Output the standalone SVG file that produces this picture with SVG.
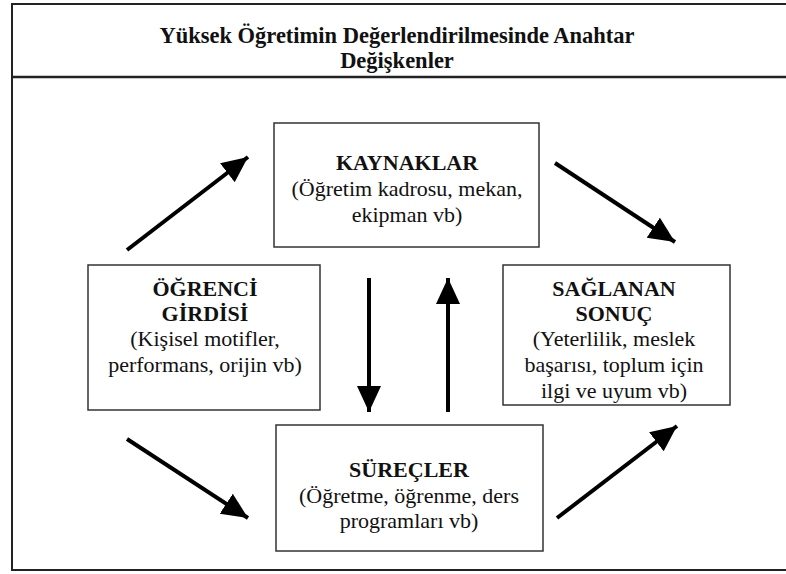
<svg xmlns="http://www.w3.org/2000/svg" width="786" height="574" viewBox="0 0 786 574" font-family="Liberation Serif, Times New Roman, serif">
<style>
.frame{fill:none;stroke:#222;stroke-width:2}
.box{fill:#fff;stroke:#333;stroke-width:1.5}
.b{font-weight:bold;font-size:22px;fill:#111;text-anchor:middle}
.r{font-size:22px;fill:#111;text-anchor:middle}
.title{font-weight:bold;font-size:22.5px;fill:#111;text-anchor:middle}
.arr{stroke:#000;stroke-width:4;fill:none;marker-end:url(#ah)}
</style>
<defs>
<marker id="ah" markerUnits="userSpaceOnUse" markerWidth="30" markerHeight="26" refX="26" refY="12" orient="auto">
<path d="M0,0 L26,12 L0,24 Z" fill="#000"/>
</marker>
</defs>
<rect width="786" height="574" fill="#fff"/>
<g id="frame">
<rect class="frame" x="12" y="4" width="780" height="566"/>
<line x1="12" y1="77" x2="786" y2="77" stroke="#222" stroke-width="2.5"/>
<text class="title" x="397" y="43">Yüksek Öğretimin Değerlendirilmesinde Anahtar</text>
<text class="title" x="397" y="68">Değişkenler</text>
</g>
<g id="connectors">
<line class="arr" x1="127" y1="250" x2="248" y2="157"/>
<line class="arr" x1="555" y1="163" x2="675" y2="242"/>
<line class="arr" x1="127" y1="439" x2="248" y2="518"/>
<line class="arr" x1="557" y1="518" x2="677" y2="426"/>
<line class="arr" x1="369" y1="278" x2="369" y2="412"/>
<line class="arr" x1="448" y1="412" x2="448" y2="278"/>
</g>
<g id="kaynaklar">
<rect class="box" x="274" y="123" width="265" height="124"/>
<text class="b" x="407" y="170">KAYNAKLAR</text>
<text class="r" x="407" y="196">(Öğretim kadrosu, mekan,</text>
<text class="r" x="407" y="222">ekipman vb)</text>
</g>
<g id="ogrenci">
<rect class="box" x="88" y="265" width="232" height="145"/>
<text class="b" x="205" y="296">ÖĞRENCİ</text>
<text class="b" x="205" y="321">GİRDİSİ</text>
<text class="r" x="205" y="346">(Kişisel motifler,</text>
<text class="r" x="205" y="372">performans, orijin vb)</text>
</g>
<g id="saglanan">
<rect class="box" x="503" y="265" width="227" height="140"/>
<text class="b" x="614" y="296">SAĞLANAN</text>
<text class="b" x="614" y="321">SONUÇ</text>
<text class="r" x="614" y="346">(Yeterlilik, meslek</text>
<text class="r" x="614" y="372">başarısı, toplum için</text>
<text class="r" x="614" y="398">ilgi ve uyum vb)</text>
</g>
<g id="surecler">
<rect class="box" x="276" y="425" width="267" height="126"/>
<text class="b" x="409" y="477">SÜREÇLER</text>
<text class="r" x="409" y="503">(Öğretme, öğrenme, ders</text>
<text class="r" x="409" y="528">programları vb)</text>
</g>
</svg>
